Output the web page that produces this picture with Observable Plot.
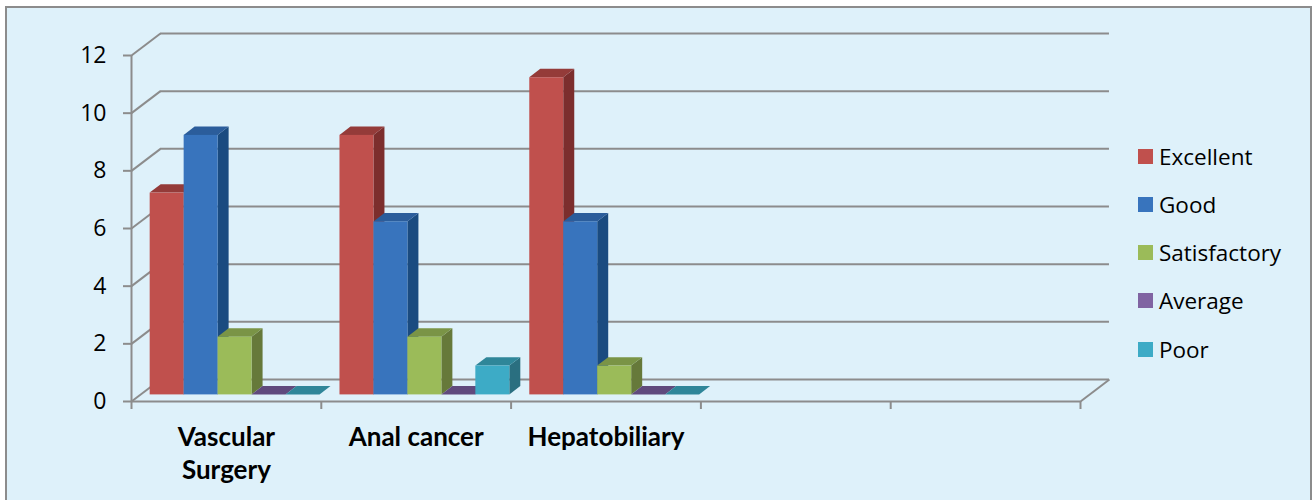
<!DOCTYPE html>
<html>
<head>
<meta charset="utf-8">
<script src="https://cdn.jsdelivr.net/npm/d3@7"></script>
<script src="https://cdn.jsdelivr.net/npm/@observablehq/plot@0.6"></script>
<style>
  html, body { margin: 0; padding: 0; background: #ffffff; }
  body { width: 1314px; height: 500px; position: relative; overflow: hidden; font-family: "Open Sans", Lato, sans-serif; }
  #frame { position: absolute; left: 5px; top: 6px; width: 1303px; height: 500px; border: 2px solid #8c8c8c; background: #def1fa; }
  #chart { position: absolute; left: 0; top: 0; }
  #legend { position: absolute; left: 1138px; top: 141px; }
  .item { display: flex; align-items: center; height: 30px; margin-bottom: 18.3px; font-size: 22.5px; color: #000; }
  .sw { width: 15px; height: 15px; margin-right: 6px; flex: none; }
</style>
</head>
<body>
<div id="frame"></div>
<div id="chart"></div>
<div id="legend"></div>
<script>
// ---- data ----
const categories = ["Vascular\nSurgery", "Anal cancer", "Hepatobiliary"];
const slotCount = 5; // category slots on the axis (last two empty)
const series = ["Excellent", "Good", "Satisfactory", "Average", "Poor"];
const excellent = [7, 9, 11];
const good = [9, 6, 6];
const satisfactory = [2, 2, 1];
const average = [0, 0, 0];
const poor = [0, 1, 0];
const yTicks = [0, 2, 4, 6, 8, 10, 12];

// ---- styles ----
const frontColors = ["#c0504d", "#3874bd", "#9bbb59", "#8064a2", "#3dabc6"];
const topColors   = ["#943b39", "#2b5d9b", "#7a9446", "#604a7d", "#2f8699"];
const sideColors  = ["#7c2e2d", "#1a4b80", "#66793a", "#4f3d68", "#2a6f80"];
const gridColor = "#8c8c8c";

const seriesValues = [excellent, good, satisfactory, average, poor];

// 3D depth expressed in scale units
const DX = 29 / 190;      // x depth (category units)
const DY = 22 / 28.83;    // y depth (value units)
const F0 = 0.3, F1 = 0.68; // bar front / back depth fractions
const PAD = 10 / 190;
const BW = (1 - 2 * PAD) / series.length;

const sideMarks = [], topMarks = [], frontMarks = [];
series.forEach((s, j) => {
  const rows = categories.map((c, i) => {
    const a = i + PAD + j * BW, b = a + BW;
    return {i, a, b, value: seriesValues[j][i]};
  });
  const side = rows.flatMap(r => [
    {bar: r.i, x: r.b + F0 * DX, y1: F0 * DY, y2: r.value + F0 * DY},
    {bar: r.i, x: r.b + F1 * DX, y1: F1 * DY, y2: r.value + F1 * DY}
  ]);
  const top = rows.flatMap(r => [
    {bar: r.i, y: r.value + F0 * DY, x1: r.a + F0 * DX, x2: r.b + F0 * DX},
    {bar: r.i, y: r.value + F1 * DY, x1: r.a + F1 * DX, x2: r.b + F1 * DX}
  ]);
  sideMarks.push(Plot.areaY(side, {x: "x", y1: "y1", y2: "y2", z: "bar", fill: sideColors[j]}));
  topMarks.push(Plot.areaX(top, {y: "y", x1: "x1", x2: "x2", z: "bar", fill: topColors[j]}));
  frontMarks.push(Plot.rect(rows, {
    x1: r => r.a + F0 * DX, x2: r => r.b + F0 * DX,
    y1: F0 * DY, y2: r => r.value + F0 * DY,
    fill: frontColors[j]
  }));
});

const chart = Plot.plot({
  width: 1314,
  height: 500,
  marginLeft: 131,
  marginRight: 234,
  marginTop: 55,
  marginBottom: 99,
  x: {type: "linear", domain: [0, slotCount]},
  y: {type: "linear", domain: [0, 12]},
  style: {background: "transparent", fontFamily: "'Open Sans', Lato, sans-serif", overflow: "visible"},
  marks: [
    // back wall gridlines
    Plot.ruleY(yTicks, {y: d => d + DY, x1: DX, x2: slotCount + DX, stroke: gridColor, strokeWidth: 2}),
    // side wall diagonals
    Plot.link(yTicks, {x1: 0, y1: d => d, x2: DX, y2: d => d + DY, stroke: gridColor, strokeWidth: 2}),
    // floor front edge and right diagonal
    Plot.ruleY([0], {x1: 0, x2: slotCount, stroke: gridColor, strokeWidth: 2}),
    Plot.link([0], {x1: slotCount, y1: 0, x2: slotCount + DX, y2: DY, stroke: gridColor, strokeWidth: 2}),
    // front vertical axis line
    Plot.ruleX([0], {y1: 0, y2: 12, stroke: gridColor, strokeWidth: 2}),
    Plot.axisY(yTicks, {tickSize: 8, tickPadding: 17, fontSize: 23, stroke: gridColor, strokeWidth: 2, fill: "#000", label: null}),
    Plot.axisX(d3.range(slotCount + 1), {tickSize: 8, tickFormat: () => "", stroke: gridColor, strokeWidth: 2, label: null}),
    ...sideMarks,
    ...topMarks,
    ...frontMarks,
    Plot.text(categories, {
      x: (d, i) => i + 0.5, y: 0, dy: 21, lineAnchor: "top",
      text: d => d, fontSize: 26, fontWeight: "bold", lineHeight: 1.26, fill: "#000",
      fontFamily: "Lato, sans-serif"
    })
  ]
});
document.getElementById("chart").appendChild(chart);

// legend
const legend = document.getElementById("legend");
series.forEach((s, j) => {
  const item = document.createElement("div");
  item.className = "item";
  const sw = document.createElement("span");
  sw.className = "sw";
  sw.style.background = frontColors[j];
  const label = document.createElement("span");
  label.textContent = s;
  item.appendChild(sw);
  item.appendChild(label);
  legend.appendChild(item);
});
</script>
</body>
</html>
